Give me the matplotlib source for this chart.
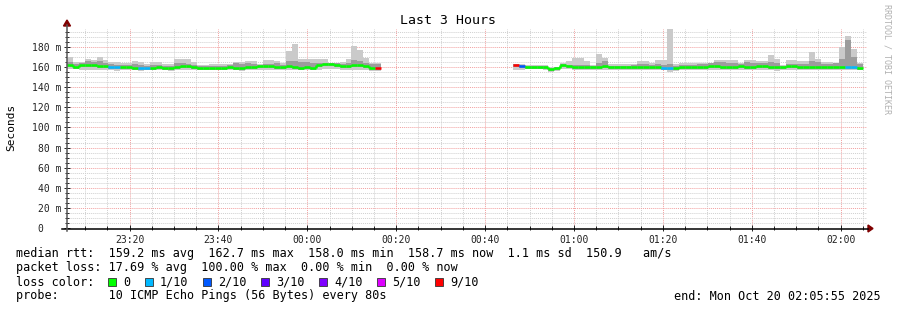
import numpy as np
import matplotlib
matplotlib.use("Agg")
import matplotlib.pyplot as plt
import matplotlib.dates as mdates
from matplotlib.lines import Line2D
from matplotlib.patches import Rectangle, Polygon

plt.rcParams['font.family'] = ['DejaVu Sans Mono']

W, H = 897, 310
step = np.timedelta64(80, 's')
t_start = np.datetime64('2025-10-19T23:05:55')
t_end = np.datetime64('2025-10-20T02:05:55')

# first block of data (before the outage)
seg1_start = np.datetime64('2025-10-19T23:05:55')
seg1_median = [162, 160, 162, 162, 162, 161, 161, 160, 160, 160,
               160, 159, 159, 159, 159, 160, 159, 159, 160, 161,
               161, 160, 159, 159, 159, 159, 159, 160, 159, 159,
               160, 160, 161, 161, 161, 160, 160, 161, 160, 159,
               160, 159, 162, 163, 163, 162, 161, 161, 162, 162,
               161, 159, 159]
seg1_hi = [170, 165, 165, 168, 167, 170, 167, 165, 165, 164,
           164, 166, 165, 163, 165, 165, 163, 163, 168, 168,
           168, 165, 162, 162, 163, 163, 163, 163, 165, 165,
           166, 166, 163, 167, 167, 166, 164, 176, 183, 168,
           168, 168, 168, 168, 163, 163, 165, 168, 181, 177,
           169, 164, 164]
seg1_inner = [165, 163, 164, 166, 165, 166, 164, 163, 162, 162,
              162, 163, 162, 161, 162, 162, 161, 161, 164, 164,
              163, 162, 161, 161, 161, 161, 161, 162, 164, 163,
              164, 163, 162, 163, 163, 164, 162, 166, 166, 165,
              165, 164, 164, 164, 164, 164, 163, 164, 167, 166,
              164, 163, 163]
seg1_lo = [158, 158, 157, 157, 157, 157, 157, 157, 156, 157,
           157, 157, 156, 157, 157, 157, 157, 156, 157, 157,
           157, 157, 157, 157, 157, 157, 157, 157, 157, 156,
           157, 157, 157, 157, 157, 157, 157, 157, 157, 157,
           157, 157, 157, 158, 158, 158, 157, 157, 157, 157,
           157, 156, 156]
seg1_loss = [0] * 53
seg1_loss[7] = seg1_loss[8] = seg1_loss[12] = seg1_loss[13] = 1
seg1_loss[52] = 9

# second block of data (after the outage)
seg2_start = np.datetime64('2025-10-20T00:46:15')
seg2_median = [162, 161, 160, 160, 160, 160, 158, 159, 162, 161,
               160, 160, 160, 160, 160, 161, 160, 160, 160, 160,
               160, 160, 160, 160, 160, 159, 159, 159, 160, 160,
               160, 160, 160, 161, 161, 160, 160, 160, 161, 160,
               160, 161, 161, 160, 160, 160, 161, 161, 160, 160,
               160, 160, 160, 160, 160, 160, 160, 160, 159]
seg2_hi = [163, 163, 162, 162, 162, 162, 160, 160, 164, 166,
           169, 169, 166, 162, 173, 169, 163, 163, 163, 163,
           163, 166, 166, 164, 167, 167, 199, 163, 164, 164,
           164, 164, 164, 163, 167, 167, 167, 167, 164, 167,
           167, 166, 166, 172, 168, 162, 167, 167, 166, 166,
           175, 168, 165, 165, 164, 180, 191, 178, 164]
seg2_inner = [163, 162, 161, 161, 161, 161, 159, 160, 163, 162,
              162, 162, 162, 161, 164, 166, 161, 161, 161, 161,
              162, 163, 163, 162, 163, 162, 163, 161, 162, 162,
              162, 163, 163, 164, 165, 165, 164, 164, 163, 165,
              164, 164, 164, 165, 164, 161, 163, 163, 163, 163,
              166, 165, 163, 163, 164, 168, 187, 170, 163]
seg2_lo = [157, 157, 158, 158, 158, 157, 155, 156, 158, 158,
           157, 157, 157, 157, 157, 157, 157, 157, 157, 157,
           157, 157, 157, 157, 157, 157, 155, 156, 157, 157,
           157, 157, 157, 157, 157, 157, 157, 157, 157, 157,
           157, 157, 157, 157, 156, 157, 157, 157, 157, 157,
           157, 157, 157, 157, 157, 157, 157, 157, 157]
seg2_loss = [0] * 59
seg2_loss[0] = 9
seg2_loss[1] = 2
seg2_loss[25] = seg2_loss[26] = 1
seg2_loss[56] = seg2_loss[57] = 1

loss_labels = ['0', '1/10', '2/10', '3/10', '4/10', '5/10', '9/10']
loss_levels = [0, 1, 2, 3, 4, 5, 9]
loss_colors = ['#00ff00', '#00b8ff', '#0059ff', '#5e00ff', '#7e00ff', '#dd00ff', '#ff0000']
color_of = dict(zip(loss_levels, loss_colors))

fig = plt.figure(figsize=(W / 100, H / 100), dpi=100)
ax = fig.add_axes([67 / W, 82 / H, 800 / W, 199 / H])


def draw_segment(start, median, hi, inner, lo, loss):
    n = len(median)
    edges = start + step * np.arange(n + 1)
    med = np.array(median, float)
    ext = lambda a: np.append(np.array(a, float), a[-1])
    ax.fill_between(edges, ext(lo), ext(hi), step='post', color='#cacaca', lw=0)
    ax.fill_between(edges, ext(med - 1.5), ext(inner), step='post', color='#9c9c9c', lw=0)
    cols = [color_of[l] for l in loss]
    ax.vlines(edges[1:-1], med[:-1], med[1:], colors=cols[1:], lw=1.8)
    ax.hlines(med, edges[:-1], edges[1:], colors=cols, lw=1.8)


draw_segment(seg1_start, seg1_median, seg1_hi, seg1_inner, seg1_lo, seg1_loss)
draw_segment(seg2_start, seg2_median, seg2_hi, seg2_inner, seg2_lo, seg2_loss)

ax.set_xlim(t_start, t_end)
ax.set_ylim(0, 198)
ax.xaxis.set_major_locator(mdates.MinuteLocator(byminute=[0, 20, 40]))
ax.xaxis.set_minor_locator(mdates.MinuteLocator(byminute=range(0, 60, 5)))
ax.xaxis.set_major_formatter(mdates.DateFormatter('%H:%M'))
ax.yaxis.set_major_locator(plt.MultipleLocator(20))
ax.yaxis.set_minor_locator(plt.MultipleLocator(5))
ax.yaxis.set_major_formatter(plt.FuncFormatter(
    lambda v, p: '0   ' if v == 0 else f'{int(v)} m'))

ax.set_axisbelow(True)
ax.grid(which='minor', color='#d0d0d0', ls=(0, (1, 1)), lw=0.7)
ax.grid(which='major', color='#f2a0a0', ls=(0, (1, 1)), lw=0.7)
ax.tick_params(which='both', labelsize=7, colors='#222222', direction='inout')
ax.tick_params(which='major', length=4, width=0.7)
ax.tick_params(which='minor', length=3, width=0.7)
ax.tick_params(axis='x', pad=3)
ax.tick_params(axis='y', pad=2)
for s in ['top', 'right', 'left', 'bottom']:
    ax.spines[s].set_visible(False)

# axes with arrows, RRDtool style
fx = lambda px: px / W
fy = lambda py: 1 - py / H
fig.add_artist(Line2D([fx(62), fx(868)], [fy(228.5), fy(228.5)], color='black', lw=1.1))
fig.add_artist(Line2D([fx(67), fx(67)], [fy(231), fy(25)], color='#555555', lw=1.1))
fig.add_artist(Polygon([[fx(868), fy(225)], [fx(868), fy(232)], [fx(873), fy(228.5)]],
                       closed=True, color='#800000', transform=fig.transFigure))
fig.add_artist(Polygon([[fx(63.5), fy(26)], [fx(70.5), fy(26)], [fx(67), fy(20)]],
                       closed=True, color='#800000', transform=fig.transFigure))

fig.text(fx(448), fy(20), 'Last 3 Hours', ha='center', va='center', fontsize=9.5)
fig.text(fx(11), fy(127), 'Seconds', rotation=90, ha='center', va='center', fontsize=8)
fig.text(fx(887), fy(4), 'RRDTOOL / TOBI OETIKER', rotation=270, ha='center', va='top',
         fontsize=6, color='#b0b0b0')

fs = 8.5
fig.text(fx(16), fy(254), 'median rtt:  159.2 ms avg  162.7 ms max  158.0 ms min  '
         '158.7 ms now  1.1 ms sd  150.9   am/s', va='center', fontsize=fs)
fig.text(fx(16), fy(268), 'packet loss: 17.69 % avg  100.00 % max  0.00 % min  0.00 % now',
         va='center', fontsize=fs)
fig.text(fx(16), fy(282), 'loss color:', va='center', fontsize=fs)
sq_x = [108, 145, 203, 261, 319, 377, 435]
for x0, lab, col in zip(sq_x, loss_labels, loss_colors):
    fig.add_artist(Rectangle((fx(x0), fy(286)), 8 / W, 8 / H, facecolor=col,
                             edgecolor='#333333', lw=0.6, transform=fig.transFigure))
    fig.text(fx(x0 + 15), fy(282), lab, va='center', fontsize=fs)
fig.text(fx(16), fy(296), 'probe:       10 ICMP Echo Pings (56 Bytes) every 80s',
         va='center', fontsize=fs)
fig.text(fx(881), fy(296), 'end: Mon Oct 20 02:05:55 2025', va='center', ha='right',
         fontsize=fs)

fig.savefig('out.png', dpi=100)
